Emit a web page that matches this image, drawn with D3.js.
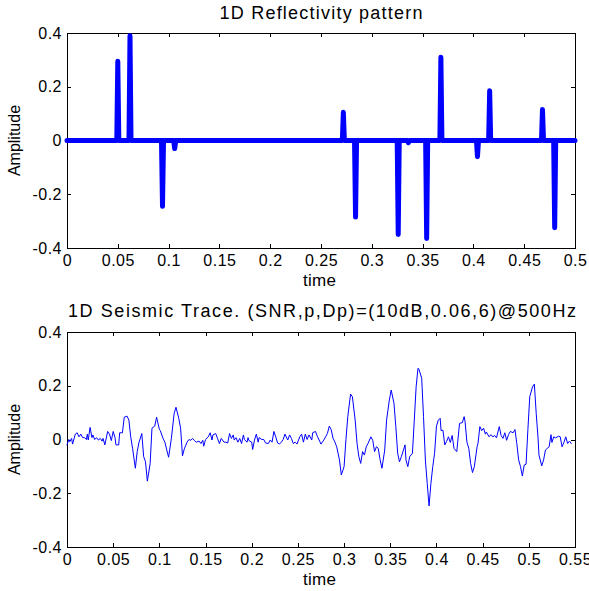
<!DOCTYPE html>
<html>
<head>
<meta charset="utf-8">
<script src="https://cdn.jsdelivr.net/npm/d3@7"></script>
<style>
  body { margin: 0; background: #fff; }
  text { font-family: "Liberation Sans", Arial, Helvetica, sans-serif; fill: #000; }
  .axis path, .axis line { stroke: #000; stroke-width: 1; shape-rendering: crispEdges; }
  .axis text { font-size: 16px; letter-spacing: 0.5px; }
</style>
</head>
<body>
<div id="chart"></div>
<script>
// reflectivity spikes (time in s, amplitude)
var reflTimes = [0.050, 0.062, 0.094, 0.106, 0.272, 0.284, 0.326, 0.336, 0.354, 0.368, 0.404, 0.416, 0.468, 0.480];
var reflAmps  = [0.295, 0.39, -0.245, -0.03, 0.105, -0.285, -0.35, -0.008, -0.365, 0.31, -0.06, 0.185, 0.115, -0.325];
var reflEnd = 0.5;

// seismic trace
var traceTimes = [
  0.000, 0.002, 0.003, 0.005, 0.006, 0.009, 0.011, 0.013, 0.015, 0.017, 0.019, 0.021, 0.022, 0.023, 0.025,
  0.027, 0.028, 0.030, 0.032, 0.034, 0.036, 0.038, 0.039, 0.041, 0.044, 0.046, 0.048, 0.050, 0.052, 0.053,
  0.056, 0.057, 0.060, 0.062, 0.065, 0.067, 0.069, 0.071, 0.074, 0.076, 0.078, 0.081, 0.083, 0.085, 0.087,
  0.090, 0.092, 0.095, 0.097, 0.100, 0.101, 0.104, 0.106, 0.108, 0.110, 0.113, 0.116, 0.118, 0.121, 0.123,
  0.125, 0.127, 0.130, 0.132, 0.134, 0.136, 0.138, 0.140, 0.143, 0.145, 0.147, 0.148, 0.150, 0.153, 0.155,
  0.157, 0.158, 0.161, 0.163, 0.165, 0.167, 0.170, 0.172, 0.174, 0.176, 0.178, 0.180, 0.181, 0.183, 0.185,
  0.187, 0.189, 0.191, 0.192, 0.195, 0.196, 0.197, 0.200, 0.201, 0.203, 0.205, 0.207, 0.208, 0.211, 0.213,
  0.215, 0.218, 0.220, 0.222, 0.224, 0.226, 0.228, 0.230, 0.232, 0.234, 0.236, 0.239, 0.241, 0.243, 0.245,
  0.247, 0.249, 0.252, 0.254, 0.256, 0.258, 0.260, 0.262, 0.265, 0.266, 0.269, 0.271, 0.273, 0.275, 0.278,
  0.280, 0.282, 0.284, 0.286, 0.288, 0.290, 0.292, 0.295, 0.297, 0.300, 0.302, 0.304, 0.307, 0.309, 0.312,
  0.314, 0.316, 0.318, 0.320, 0.322, 0.324, 0.326, 0.329, 0.331, 0.333, 0.335, 0.337, 0.339, 0.341, 0.344,
  0.346, 0.349, 0.351, 0.354, 0.356, 0.358, 0.360, 0.362, 0.366, 0.367, 0.369, 0.371, 0.374, 0.376, 0.378,
  0.380, 0.381, 0.384, 0.386, 0.388, 0.390, 0.392, 0.394, 0.396, 0.398, 0.400, 0.402, 0.404, 0.405, 0.407,
  0.409, 0.411, 0.413, 0.415, 0.417, 0.419, 0.422, 0.423, 0.425, 0.428, 0.430, 0.431, 0.433, 0.435, 0.437,
  0.439, 0.441, 0.444, 0.445, 0.447, 0.449, 0.451, 0.453, 0.454, 0.457, 0.459, 0.461, 0.463, 0.465, 0.468,
  0.470, 0.472, 0.474, 0.476, 0.478, 0.480, 0.483, 0.485, 0.487, 0.489, 0.491, 0.493, 0.495, 0.497, 0.499,
  0.501, 0.504, 0.506, 0.508, 0.510, 0.511, 0.514, 0.516, 0.518, 0.520, 0.522, 0.524, 0.525, 0.527, 0.529,
  0.532, 0.534, 0.536, 0.538, 0.540, 0.542, 0.544, 0.546
];
var traceAmps = [
  -0.02, 0.0, -0.008, 0.004, -0.017, 0.02, 0.025, 0.01, 0.02, 0.007, 0.007, 0.0, 0.02, -0.002, 0.045,
  0.007, 0.017, 0.0, 0.007, -0.002, 0.004, -0.006, 0.004, -0.02, 0.03, 0.02, -0.004, 0.03, 0.007, -0.02,
  -0.02, 0.025, 0.025, 0.083, 0.087, 0.072, 0.01, -0.033, -0.107, -0.045, -0.01, 0.022, -0.064, -0.083, -0.155,
  -0.09, 0.042, 0.05, 0.083, 0.038, 0.033, 0.004, -0.01, -0.039, -0.066, 0.004, 0.097, 0.12, 0.079, 0.042,
  -0.061, -0.035, -0.01, 0.0, -0.003, 0.004, -0.004, -0.01, -0.006, -0.015, -0.003, -0.025, 0.0, 0.01, 0.025,
  -0.002, 0.017, 0.022, 0.004, -0.015, 0.004, -0.01, -0.01, -0.013, 0.022, 0.004, 0.017, -0.002, 0.007, -0.01,
  0.004, -0.015, 0.017, 0.0, -0.01, 0.007, -0.004, -0.01, -0.037, -0.002, 0.02, -0.01, 0.007, 0.0, 0.0,
  -0.013, -0.015, -0.002, -0.01, 0.03, 0.01, -0.013, -0.017, -0.01, 0.0, 0.02, -0.002, 0.017, 0.004, -0.015,
  -0.01, -0.017, 0.01, 0.02, -0.01, 0.02, 0.0, 0.017, -0.002, 0.025, 0.03, 0.012, -0.002, -0.017, -0.002,
  0.01, 0.023, 0.05, 0.037, 0.005, -0.009, -0.027, -0.076, -0.132, -0.101, 0.0, 0.085, 0.169, 0.159, 0.072,
  -0.014, -0.064, -0.089, -0.045, -0.058, -0.027, -0.014, 0.01, -0.003, -0.045, -0.027, -0.033, -0.076, -0.107, -0.039,
  0.072, 0.147, 0.184, 0.135, 0.048, -0.051, -0.083, -0.064, -0.02, -0.076, -0.101, -0.064, -0.051, 0.072, 0.196,
  0.265, 0.262, 0.228, 0.085, -0.076, -0.163, -0.247, -0.163, -0.101, -0.051, 0.05, 0.072, 0.079, 0.033, 0.035,
  -0.02, -0.007, 0.01, -0.011, 0.015, -0.033, -0.045, -0.01, 0.06, 0.063, 0.085, 0.066, -0.01, -0.033, -0.089,
  -0.123, -0.101, -0.027, -0.014, 0.048, 0.033, 0.042, 0.02, 0.028, 0.01, 0.018, 0.01, 0.015, 0.006, 0.048,
  0.015, 0.004, 0.025, -0.003, 0.018, 0.03, 0.025, 0.037, -0.015, -0.076, -0.101, -0.136, -0.095, -0.092, 0.037,
  0.159, 0.196, 0.206, 0.097, 0.005, -0.058, -0.098, -0.076, -0.039, -0.033, -0.027, 0.018, -0.011, 0.01, 0.006,
  0.012, 0.01, -0.027, -0.011, 0.01, -0.015, -0.006, -0.015
];

var yTicks = [-0.4, -0.2, 0, 0.2, 0.4];
var yTickLabels = ["-0.4", "-0.2", "0", "0.2", "0.4"];
var xTicksTop = [0, 0.05, 0.1, 0.15, 0.2, 0.25, 0.3, 0.35, 0.4, 0.45, 0.5];
var xTickLabelsTop = ["0", "0.05", "0.1", "0.15", "0.2", "0.25", "0.3", "0.35", "0.4", "0.45", "0.5"];
var xTicksBottom = [0, 0.05, 0.1, 0.15, 0.2, 0.25, 0.3, 0.35, 0.4, 0.45, 0.5, 0.55];
var xTickLabelsBottom = ["0", "0.05", "0.1", "0.15", "0.2", "0.25", "0.3", "0.35", "0.4", "0.45", "0.5", "0.55"];

var titleTop = "1D Reflectivity pattern";
var titleBottom = "1D Seismic Trace. (SNR,p,Dp)=(10dB,0.06,6)@500Hz";

var svg = d3.select("#chart").append("svg")
    .attr("width", 589)
    .attr("height", 591);

TracePlot = function(_svg, _opts) {
    this.svg = _svg;
    this.opts = _opts;
    this.initVis();
};

TracePlot.prototype.initVis = function() {
    var vis = this, o = vis.opts;

    vis.margin = { top: o.top, left: 67 };
    vis.width = 508;
    vis.height = 215;

    vis.g = vis.svg.append("g")
        .attr("transform", "translate(" + vis.margin.left + "," + vis.margin.top + ")");

    vis.x = d3.scaleLinear().domain(o.xDomain).range([0, vis.width]);
    vis.y = d3.scaleLinear().domain([-0.4, 0.4]).range([vis.height, 0]);

    var tick = 4;

    vis.g.append("g").attr("class", "axis")
        .attr("transform", "translate(0," + vis.height + ")")
        .call(d3.axisBottom(vis.x).tickValues(o.xTicks)
            .tickFormat(function(d, i) { return o.xLabels[i]; })
            .tickSizeInner(-tick).tickSizeOuter(0).tickPadding(7));

    vis.g.append("g").attr("class", "axis")
        .call(d3.axisTop(vis.x).tickValues(o.xTicks).tickFormat("")
            .tickSizeInner(-tick).tickSizeOuter(0));

    vis.g.append("g").attr("class", "axis")
        .call(d3.axisLeft(vis.y).tickValues(yTicks)
            .tickFormat(function(d, i) { return yTickLabels[i]; })
            .tickSizeInner(-tick).tickSizeOuter(0).tickPadding(5));

    vis.g.append("g").attr("class", "axis")
        .attr("transform", "translate(" + vis.width + ",0)")
        .call(d3.axisRight(vis.y).tickValues(yTicks).tickFormat("")
            .tickSizeInner(-tick).tickSizeOuter(0));

    vis.g.selectAll(".axis .domain").attr("stroke", "#000");

    // title
    vis.g.append("text")
        .attr("x", vis.width / 2 + o.titleShift)
        .attr("y", o.titleY)
        .attr("text-anchor", "middle")
        .attr("textLength", o.titleWidth)
        .attr("lengthAdjust", "spacing")
        .style("font-size", "18px")
        .text(o.title);

    vis.g.append("text")
        .attr("x", vis.width / 2 - 1.5)
        .attr("y", vis.height + 38)
        .attr("text-anchor", "middle")
        .attr("textLength", 33)
        .attr("lengthAdjust", "spacing")
        .style("font-size", "17px")
        .text("time");

    vis.g.append("text")
        .attr("transform", "translate(-47," + (vis.height / 2) + ") rotate(-90)")
        .attr("text-anchor", "middle")
        .style("font-size", "16px")
        .text("Amplitude");

    vis.line = d3.line()
        .x(function(d) { return vis.x(d[0]); })
        .y(function(d) { return vis.y(d[1]); });

    vis.g.append("path")
        .datum(o.points)
        .attr("fill", "none")
        .attr("stroke", "#0000ff")
        .attr("stroke-width", o.lineWidth)
        .attr("stroke-linejoin", "round")
        .attr("stroke-linecap", "round")
        .attr("d", vis.line);
};

// top: zero line with a narrow triangle at each reflector
var reflPoints = [[0, 0]];
reflTimes.forEach(function(t, i) {
    reflPoints.push([t - 0.001, 0], [t, reflAmps[i]], [t + 0.001, 0]);
});
reflPoints.push([reflEnd, 0]);

var tracePoints = traceTimes.map(function(t, i) { return [t, traceAmps[i]]; });

new TracePlot(svg, {
    top: 33, xDomain: [0, 0.5], xTicks: xTicksTop, xLabels: xTickLabelsTop,
    title: titleTop, titleY: -14, titleWidth: 203, titleShift: 0,
    points: reflPoints, lineWidth: 5
});

new TracePlot(svg, {
    top: 332, xDomain: [0, 0.55], xTicks: xTicksBottom, xLabels: xTickLabelsBottom,
    title: titleBottom, titleY: -15, titleWidth: 508, titleShift: 1,
    points: tracePoints, lineWidth: 1
});
</script>
</body>
</html>
